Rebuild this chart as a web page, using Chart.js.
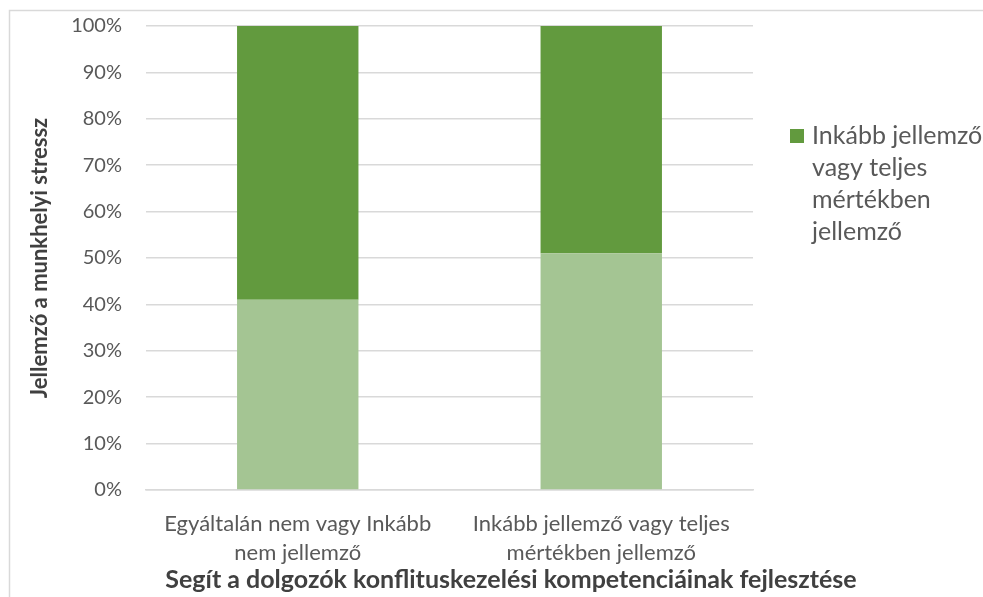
<!DOCTYPE html>
<html>
<head>
<meta charset="utf-8">
<script src="https://cdn.jsdelivr.net/npm/chart.js@4"></script>
<style>
  html, body { margin: 0; padding: 0; background: #fff; }
  #wrap { width: 983px; height: 597px; position: relative; }
</style>
</head>
<body>
<div id="wrap"><canvas id="stressChart" width="983" height="597"></canvas></div>
<script>
  const categories = [
    ['Egyáltalán nem vagy Inkább', 'nem jellemző'],
    ['Inkább jellemző vagy teljes', 'mértékben jellemző']
  ];
  const seriesNames = [
    'Egyáltalán nem vagy Inkább nem jellemző',
    'Inkább jellemző vagy teljes mértékben jellemző'
  ];
  const lowShare = [41, 51];
  const highShare = [59, 49];
  const legendLines = ['Inkább jellemző', 'vagy teljes', 'mértékben', 'jellemző'];
  const xTitle = 'Segít a dolgozók konflituskezelési kompetenciáinak fejlesztése';

  const FONT = 'Lato, "Open Sans", sans-serif';
  const TEXT = '#595959';

  // outer frame, x title (wider than the plot, so drawn by hand) and
  // a legend for the upper series only
  const frameAndLegend = {
    id: 'frameAndLegend',
    beforeDraw(chart) {
      const ctx = chart.ctx;
      ctx.save();
      ctx.strokeStyle = '#d9d9d9';
      ctx.lineWidth = 1.5;
      ctx.beginPath();
      ctx.moveTo(9.5, 600);
      ctx.lineTo(9.5, 10.5);
      ctx.lineTo(983, 10.5);
      ctx.stroke();
      ctx.restore();
    },
    afterDraw(chart) {
      const ctx = chart.ctx;
      ctx.save();
      ctx.fillStyle = '#404040';
      ctx.font = 'bold 25px ' + FONT;
      ctx.textAlign = 'center';
      ctx.textBaseline = 'middle';
      ctx.fillText(xTitle, 511, 580);

      const x = chart.chartArea.right + 37;
      const y = 136;
      ctx.textAlign = 'left';
      ctx.fillStyle = chart.data.datasets[1].backgroundColor;
      ctx.fillRect(x, y - 7, 14, 14);
      ctx.fillStyle = TEXT;
      ctx.font = '25px ' + FONT;
      legendLines.forEach((line, i) => {
        ctx.fillText(line, x + 22, y + i * 32);
      });
      ctx.restore();
    }
  };

  const ctx = document.getElementById('stressChart').getContext('2d');
  new Chart(ctx, {
    type: 'bar',
    data: {
      labels: categories,
      datasets: [
        { label: seriesNames[0], data: lowShare, backgroundColor: '#a4c593' },
        { label: seriesNames[1], data: highShare, backgroundColor: '#629a3e' }
      ]
    },
    options: {
      responsive: false,
      animation: false,
      layout: { padding: { left: 0, top: 26, right: 230, bottom: 0 } },
      datasets: { bar: { categoryPercentage: 0.4, barPercentage: 1 } },
      plugins: {
        legend: { display: false },
        tooltip: { enabled: false }
      },
      scales: {
        x: {
          stacked: true,
          grid: { display: false },
          border: { color: '#d9d9d9', width: 1.5 },
          ticks: {
            color: TEXT,
            font: { family: FONT, size: 22, lineHeight: 1.32 },
            padding: 11,
            maxRotation: 0
          },
          afterFit(scale) { scale.height = 107; }
        },
        y: {
          stacked: true,
          min: 0,
          max: 100,
          border: { display: false },
          grid: { color: '#d9d9d9', lineWidth: 1.5, drawTicks: false },
          ticks: {
            stepSize: 10,
            color: TEXT,
            padding: 24,
            font: { family: FONT, size: 20 },
            callback: v => v + '%'
          },
          title: {
            display: true,
            text: 'Jellemző a munkhelyi stressz',
            color: '#404040',
            font: { family: FONT, size: 22, weight: 'bold' },
            padding: { top: 27, bottom: 0 }
          },
          afterFit(scale) {
            scale.width = 146;
            // keep the tick padding from pushing the plot area down
            scale.paddingTop = 0;
            scale.paddingBottom = 0;
          }
        }
      }
    },
    plugins: [frameAndLegend]
  });
</script>
</body>
</html>
